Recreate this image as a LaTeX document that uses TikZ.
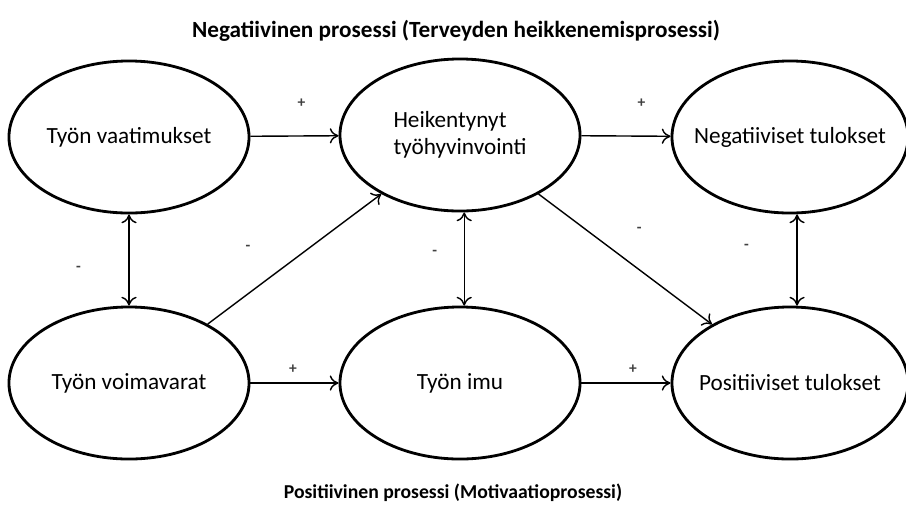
\documentclass[tikz,border=0pt]{standalone}
\usepackage{fontspec}
\setmainfont{Carlito}
\usetikzlibrary{shapes.geometric}
\usetikzlibrary{arrows.meta}
\tikzset{
	state/.style={
			draw, ellipse, line width=2pt, inner sep=0pt,
			minimum width=6cm, minimum height=3.8cm,
			font=\fontsize{16.5}{19}\selectfont, align=left
		},
	widestate/.style={state, inner xsep=-0.5cm, minimum width=5.9cm},
	link/.style={line width=1pt, -{To[length=2.2mm,width=3.8mm]}},
	dlink/.style={line width=1pt, {To[length=2.2mm,width=3.8mm]}-{To[length=2.2mm,width=3.8mm]}},
	sign/.style={font=\fontsize{11}{11}\selectfont\bfseries, text=black!75, inner sep=0pt},
	heading/.style={font=\fontsize{14}{16}\selectfont\bfseries}
}

\begin{document}
\begin{tikzpicture}[x=0.025cm, y=-0.025cm]
		\useasboundingbox (0,0) rectangle (906,522);
		\node[heading, font=\fontsize{16.5}{18}\selectfont\bfseries] (negtitle) at (456,31) {Negatiivinen prosessi (Terveyden heikkenemisprosessi)};
		\node[heading] (postitle) at (453,493) {Positiivinen prosessi (Motivaatioprosessi)};
		\node[state] (demands) at (129,137) {Työn vaatimukset};
		\node[state] (strain) at (460,135) {Heikentynyt\\työhyvinvointi};
		\node[widestate] (negout) at (790,137) {Negatiiviset tulokset};
		\node[state] (resources) at (129,383) {Työn voimavarat};
		\node[state] (engage) at (460,383) {Työn imu};
		\node[widestate] (posout) at (790,383) {Positiiviset tulokset};
		\draw[link] (demands) -- node[sign, xshift=5pt, yshift=23pt]{+} (strain);
		\draw[link] (strain) -- node[sign, xshift=11pt, yshift=23pt]{+} (negout);
		\draw[link] (resources) -- node[sign, xshift=-1pt, yshift=10pt]{+} (engage);
		\draw[link] (engage) -- node[sign, xshift=5pt, yshift=10pt]{+} (posout);
		\draw[link] (resources) -- node[sign, xshift=-33pt, yshift=8pt]{-} (strain);
		\draw[link] (strain) -- node[sign, xshift=10pt, yshift=21pt]{-} (posout);
		\draw[dlink] (demands) -- node[sign, xshift=-36pt, yshift=-6pt]{-} (resources);
		\draw[dlink] ([xshift=3pt]strain.south) -- node[sign, xshift=-21pt, yshift=4pt]{-} ([xshift=3pt]engage.north);
		\draw[dlink] ([xshift=5pt]negout.south) -- node[sign, xshift=-36pt, yshift=9pt]{-} ([xshift=5pt]posout.north);
	\end{tikzpicture}
\end{document}
